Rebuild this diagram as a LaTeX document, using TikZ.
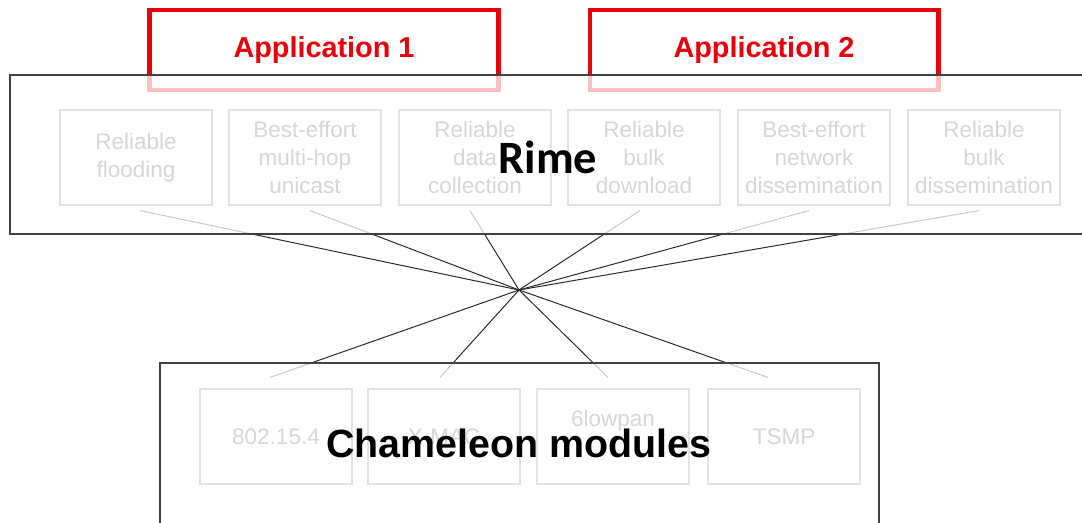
\documentclass[tikz,border=0pt]{standalone}
\usepackage{fontspec}
\setmainfont{Liberation Sans}
\newfontfamily\rimefont{Carlito}
\usetikzlibrary{positioning}

\definecolor{appred}{RGB}{232,0,10}
\definecolor{faint}{RGB}{214,214,214}
\definecolor{faintline}{RGB}{226,226,226}
\definecolor{wire}{RGB}{40,40,40}

\pgfdeclarelayer{back}
\pgfdeclarelayer{wires}
\pgfdeclarelayer{veil}
\pgfsetlayers{back,wires,veil,main}

\tikzset{
  appbox/.style={draw=appred, line width=3.5pt, minimum width=8.7cm,
    minimum height=2.0cm, inner sep=0pt, text=appred,
    font=\fontsize{20.5}{24}\selectfont\bfseries},
  layerbox/.style={draw=black!75, line width=1pt, fill=white, fill opacity=0.75},
  protobox/.style={draw=faintline, line width=0.8pt, minimum width=3.8cm,
    minimum height=2.375cm, inner sep=0pt, text=faint, align=center,
    font=\fontsize{16}{19.8}\selectfont},
  link/.style={draw=wire, line width=0.7pt},
}

\begin{document}
\begin{tikzpicture}[x=0.025cm, y=-0.025cm]
\useasboundingbox (0,0) rectangle (1082,523);

%% applications (behind Rime)
\begin{pgfonlayer}{back}
  \node[appbox] (app1) at (324,50) {Application 1};
  \node[appbox] (app2) at (764,50) {Application 2};
\end{pgfonlayer}

%% layer frames
\begin{pgfonlayer}{veil}
  \draw[layerbox] (10,75) rectangle (1100,234);
  \draw[layerbox] (160,363) rectangle (879,560);
\end{pgfonlayer}

%% Rime protocols
\foreach \i/\cx/\txt in {1/136/{Reliable\\flooding},
                         2/305/{Best-effort\\multi-hop\\unicast},
                         3/475/{Reliable\\data\\collection},
                         4/644/{Reliable\\bulk\\download},
                         5/814/{Best-effort\\network\\dissemination},
                         6/984/{Reliable\\bulk\\dissemination}}
  \node[protobox] (r\i) at (\cx,157.5) {\txt};

%% Chameleon modules
\node[protobox] (c1) at (276,436.5) {802.15.4};
\node[protobox] (c2) at (444,436.5) {X-MAC};
\node[protobox] (c3) at (613,436.5) {6lowpan\\\strut};
\node[protobox] (c4) at (784,436.5) {TSMP};

%% hub wiring
\coordinate (hub) at (519,290);
\begin{pgfonlayer}{wires}
  \foreach \i/\dx in {1/4, 2/5, 3/-5, 4/-4, 5/-5, 6/-5}
    \draw[link] (hub) -- ([shift={(\dx,5)}]r\i.south);
  \foreach \i/\dx in {1/-6, 2/-4, 3/-5, 4/-16}
    \draw[link] (hub) -- ([shift={(\dx,-11)}]c\i.north);
\end{pgfonlayer}

%% layer titles
\node[font=\rimefont\fontsize{33}{36}\selectfont\bfseries] (rime) at (548,157) {Rime};
\node[font=\fontsize{28}{32}\selectfont\bfseries] (cham) at (519,443) {Chameleon modules};

\end{tikzpicture}
\end{document}
